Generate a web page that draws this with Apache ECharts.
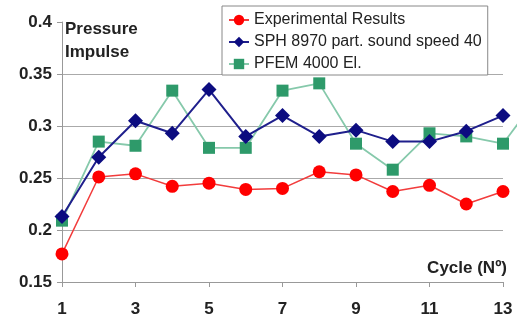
<!DOCTYPE html>
<html>
<head>
<meta charset="utf-8">
<script src="https://cdn.jsdelivr.net/npm/echarts@6/dist/echarts.min.js"></script>
<style>
  html, body { margin: 0; padding: 0; background: #fff; }
  #chart { width: 517px; height: 322px; }
</style>
</head>
<body>
<div id="chart"></div>
<script>
// cycles 1..13 (PFEM has one more point past the right edge of the plot)
const cycles = [1, 2, 3, 4, 5, 6, 7, 8, 9, 10, 11, 12, 13]
const experimental = [0.177, 0.251, 0.254, 0.242, 0.245, 0.239, 0.240, 0.256, 0.253, 0.237, 0.243, 0.225, 0.237]
const sph = [0.213, 0.270, 0.305, 0.293, 0.335, 0.290, 0.310, 0.290, 0.296, 0.285, 0.285, 0.295, 0.310]
const pfem = [0.209, 0.285, 0.281, 0.334, 0.279, 0.279, 0.334, 0.341, 0.283, 0.258, 0.293, 0.290, 0.283]
const pfemNext = 0.330 // cycle 14, cut off by the image edge
const yTicks = [0.15, 0.2, 0.25, 0.3, 0.35, 0.4]

const seriesNames = ['Experimental Results', 'SPH 8970 part. sound speed 40', 'PFEM 4000 El.']

const pairs = vals => vals.map((v, i) => [cycles[i], v])
const font = '"Liberation Sans", Arial'

// plot area: 62..503 px for cycles 1..13, image edge at 517
const plotLeft = 62
const plotRight = 14
const chartWidth = 517
const step = (chartWidth - plotLeft - plotRight) / (cycles.length - 1)
const lastCycle = cycles[cycles.length - 1]

const chart = echarts.init(document.getElementById('chart'))

const option = {
  animation: false,
  grid: [
    { left: plotLeft, right: plotRight, top: 22, bottom: 40 },
    // same scale, reaching the image edge, only used for the cut-off PFEM segment
    { left: plotLeft, right: 0, top: 22, bottom: 40 }
  ],
  legend: {
    data: seriesNames,
    orient: 'vertical',
    left: 222,
    top: 6,
    padding: [6, 6, 3, 6],
    itemGap: 6,
    itemWidth: 20,
    itemHeight: 13,
    backgroundColor: '#fff',
    borderColor: '#888',
    borderWidth: 1,
    textStyle: { fontFamily: font, fontSize: 16, color: '#222' }
  },
  graphic: [
    {
      type: 'text', left: 65, top: 18,
      style: { text: 'Pressure\nImpulse', font: 'bold 17px ' + font, fill: '#222', lineHeight: 23 }
    },
    {
      type: 'text', right: 10, top: 260,
      style: { text: 'Cycle (Nº)', font: 'bold 17px ' + font, fill: '#222' }
    }
  ],
  xAxis: [
    {
      type: 'value',
      min: cycles[0],
      max: lastCycle,
      interval: 2,
      axisLine: { lineStyle: { color: '#999' } },
      axisTick: { show: true, length: 5, lineStyle: { color: '#999' } },
      axisLabel: { fontFamily: font, fontWeight: 'bold', fontSize: 17, color: '#222', margin: 19 },
      splitLine: { show: false }
    },
    {
      type: 'value', gridIndex: 1, show: false,
      min: cycles[0], max: lastCycle + plotRight / step
    }
  ],
  yAxis: [
    {
      type: 'value',
      min: yTicks[0],
      max: yTicks[yTicks.length - 1],
      interval: 0.05,
      axisLine: { show: true, lineStyle: { color: '#999' } },
      axisTick: { show: true, length: 5, lineStyle: { color: '#999' } },
      axisLabel: { fontFamily: font, fontWeight: 'bold', fontSize: 17, color: '#222', margin: 10 },
      splitLine: { lineStyle: { color: ['#aaa', '#aaa', '#aaa', '#aaa', '#aaa', 'transparent'], width: 1.2 } }
    },
    {
      type: 'value', gridIndex: 1, show: false,
      min: yTicks[0], max: yTicks[yTicks.length - 1]
    }
  ],
  series: [
    {
      name: seriesNames[0],
      type: 'line',
      data: pairs(experimental),
      symbol: 'circle',
      symbolSize: 13,
      itemStyle: { color: '#ff0000' },
      lineStyle: { color: '#f23c3c', width: 1.5 },
      z: 2
    },
    {
      name: seriesNames[1],
      type: 'line',
      data: pairs(sph),
      symbol: 'diamond',
      symbolSize: 15,
      itemStyle: { color: '#0c0c80' },
      lineStyle: { color: '#1f1f8c', width: 2 },
      z: 4
    },
    {
      name: seriesNames[2],
      type: 'line',
      data: pairs(pfem),
      symbol: 'rect',
      symbolSize: 12,
      itemStyle: { color: '#2e9a6a' },
      lineStyle: { color: '#86c9ab', width: 1.8 },
      z: 3
    },
    {
      name: seriesNames[2],
      type: 'line',
      xAxisIndex: 1,
      yAxisIndex: 1,
      data: [[lastCycle, pfem[pfem.length - 1]], [lastCycle + 1, pfemNext]],
      showSymbol: false,
      clip: true,
      itemStyle: { color: '#2e9a6a' },
      lineStyle: { color: '#86c9ab', width: 1.8 },
      z: 1
    }
  ]
}

chart.setOption(option)
</script>
</body>
</html>
